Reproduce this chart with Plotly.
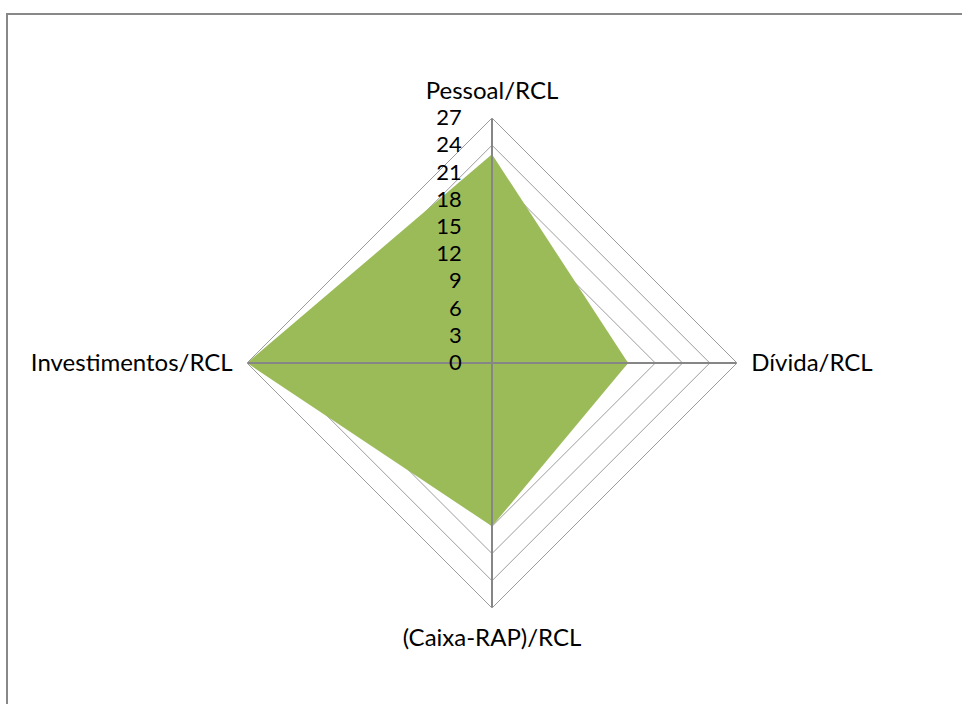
import plotly.graph_objects as go

categories = ["Pessoal/RCL", "Dívida/RCL", "(Caixa-RAP)/RCL", "Investimentos/RCL"]
values = [23, 15, 18, 27]
tick_values = [0, 3, 6, 9, 12, 15, 18, 21, 24, 27]

FONT = "Lato"
GRID = "#9c9c9c"
SPOKE = "#868686"
rmax = tick_values[-1]

fig = go.Figure()
fig.add_trace(go.Scatterpolar(
    r=values + [values[0]],
    theta=categories + [categories[0]],
    mode="lines",
    fill="toself",
    fillcolor="#9BBB59",
    line=dict(color="#9BBB59", width=0),
    hoverinfo="r+theta",
    showlegend=False,
))
for cat in categories:
    fig.add_trace(go.Scatterpolar(
        r=[0, rmax], theta=[cat, cat], mode="lines",
        line=dict(color=SPOKE, width=2),
        hoverinfo="skip", showlegend=False,
    ))

W, H = 962, 704
cx, cy, R = 492, 363, 245
fig.update_layout(
    width=W, height=H,
    margin=dict(l=0, r=0, t=0, b=0),
    paper_bgcolor="white",
    plot_bgcolor="white",
    font=dict(family=FONT, size=24, color="#000000"),
    polar=dict(
        domain=dict(x=[(cx - R) / W, (cx + R) / W],
                    y=[(H - cy - R) / H, (H - cy + R) / H]),
        gridshape="linear",
        bgcolor="white",
        radialaxis=dict(
            range=[0, rmax],
            tickvals=tick_values,
            ticktext=[str(v) for v in tick_values],
            angle=90,
            side="counterclockwise",
            showline=False,
            ticks="outside", ticklen=22, tickcolor="rgba(0,0,0,0)",
            tickangle=90,
            gridcolor=GRID, gridwidth=1,
            layer="above traces",
            tickfont=dict(family=FONT, size=22, color="#000000"),
        ),
        angularaxis=dict(
            rotation=90, direction="clockwise",
            showline=True, linecolor=GRID, linewidth=1,
            showgrid=False,
            ticks="outside", ticklen=9, tickcolor="rgba(0,0,0,0)",
            tickfont=dict(family=FONT, size=24, color="#000000"),
        ),
    ),
    shapes=[dict(
        type="rect", xref="paper", yref="paper",
        x0=7 / W, x1=1.05, y0=-0.05, y1=(H - 14) / H,
        line=dict(color="#888888", width=2),
        fillcolor="rgba(0,0,0,0)",
    )],
)

fig.write_html("out.html")
